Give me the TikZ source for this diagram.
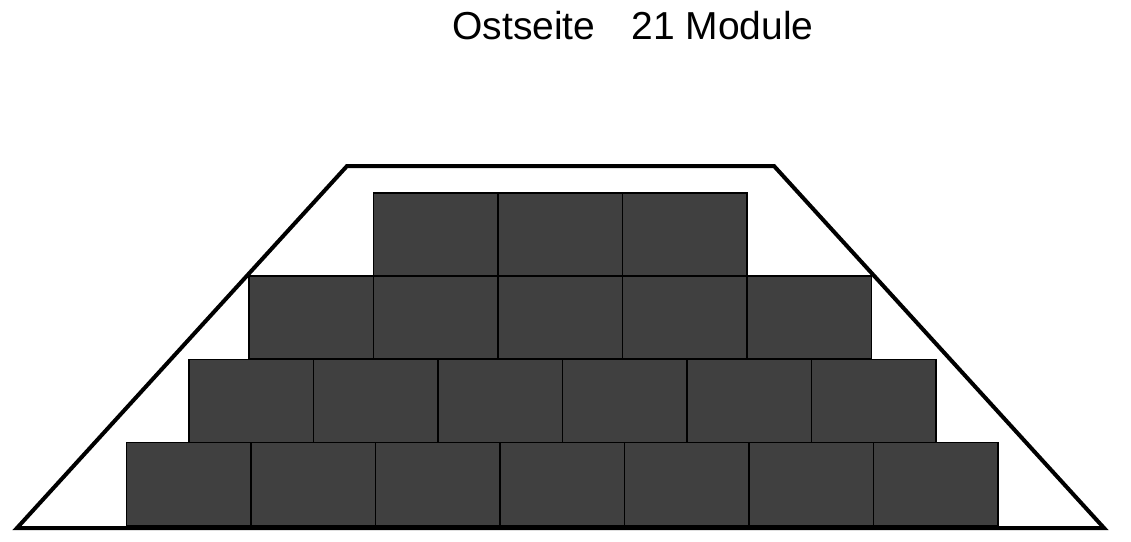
\documentclass[tikz,border=0pt]{standalone}
\usepackage{fontspec}
\setmainfont{Liberation Sans}
\tikzset{
  module/.style={draw=black, fill=modgray, line width=1.3pt, minimum width=124.5pt, minimum height=83pt, inner sep=0pt, outer sep=0pt, anchor=north west},
  frame/.style={draw=black, line width=4pt, line join=miter},
}
\definecolor{modgray}{HTML}{404040}
\begin{document}
\begin{tikzpicture}[x=1pt,y=-1pt]
\useasboundingbox (0,0) rectangle (1131,541);
\node[font=\fontsize{39}{45}\selectfont, anchor=base, inner sep=0pt] (title) at (633,39) {Ostseite\hspace{36pt}21 Module};
% frame
\coordinate (tl) at (347,166);
\coordinate (tr) at (774,166);
\coordinate (br) at (1104,528);
\coordinate (bl) at (17,528);
\draw[frame] (tl) -- (tr) -- (br) -- (bl) -- cycle;
% row 1 (top)
\foreach \i in {0,1,2} { \node[module] (r1m\i) at (373.5+\i*124.5,193) {}; }
% row 2
\foreach \i in {0,...,4} { \node[module] (r2m\i) at (249+\i*124.5,276) {}; }
% row 3
\foreach \i in {0,...,5} { \node[module] (r3m\i) at (189+\i*124.5,359.5) {}; }
% row 4 (bottom)
\foreach \i in {0,...,6} { \node[module] (r4m\i) at (126.5+\i*124.5,442.5) {}; }
\end{tikzpicture}
\end{document}
